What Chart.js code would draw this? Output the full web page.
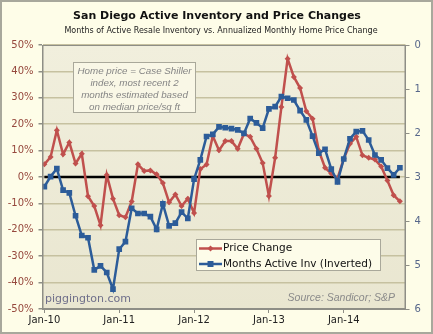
<!DOCTYPE html>
<html>
<head>
<meta charset="utf-8">
<script src="https://cdn.jsdelivr.net/npm/chart.js@4.4.1/dist/chart.umd.min.js"></script>
<style>
  html, body { margin: 0; padding: 0; background: #fff; }
</style>
</head>
<body>
<canvas id="chart" width="433" height="334"></canvas>
<script>
// month categories, Jan-10 .. Oct-14
const months = [
  'Jan-10','Feb-10','Mar-10','Apr-10','May-10','Jun-10','Jul-10','Aug-10','Sep-10','Oct-10','Nov-10','Dec-10',
  'Jan-11','Feb-11','Mar-11','Apr-11','May-11','Jun-11','Jul-11','Aug-11','Sep-11','Oct-11','Nov-11','Dec-11',
  'Jan-12','Feb-12','Mar-12','Apr-12','May-12','Jun-12','Jul-12','Aug-12','Sep-12','Oct-12','Nov-12','Dec-12',
  'Jan-13','Feb-13','Mar-13','Apr-13','May-13','Jun-13','Jul-13','Aug-13','Sep-13','Oct-13','Nov-13','Dec-13',
  'Jan-14','Feb-14','Mar-14','Apr-14','May-14','Jun-14','Jul-14','Aug-14','Sep-14','Oct-14'
];

// annualized monthly price change, %
const priceChange = [
  4.8, 7.6, 17.7, 8.6, 13.1, 5.1, 8.8, -7.3, -11.0, -18.3, 0.8, -8.2,
  -14.5, -15.2, -9.3, 4.8, 2.3, 2.5, 1.0, -2.3, -9.6, -6.6, -11.0, -8.2,
  -13.6, 3.0, 4.7, 15.5, 10.1, 13.6, 13.6, 10.7, 16.4, 15.2, 10.7, 5.3,
  -7.2, 7.3, 26.5, 44.8, 37.9, 33.7, 24.9, 22.1, 10.0, 3.5, 1.3, -0.5,
  6.9, 12.6, 15.2, 8.2, 7.3, 6.6, 4.0, -1.3, -6.9, -9.2
];

// months of active inventory (plotted inverted on right axis)
const monthsInv = [
  3.22, 2.99, 2.81, 3.30, 3.36, 3.88, 4.33, 4.38, 5.11, 5.02, 5.17, 5.55,
  4.64, 4.47, 3.71, 3.83, 3.83, 3.90, 4.19, 3.61, 4.11, 4.05, 3.80, 3.94,
  3.05, 2.61, 2.08, 2.03, 1.86, 1.88, 1.90, 1.93, 2.01, 1.67, 1.77, 1.89,
  1.45, 1.40, 1.17, 1.21, 1.25, 1.49, 1.70, 2.07, 2.46, 2.37, 2.82, 3.11,
  2.59, 2.13, 1.97, 1.95, 2.16, 2.50, 2.61, 2.80, 2.95, 2.79
];

const noteLines = ['Home price = Case Shiller', 'index, most recent 2', 'months estimated based', 'on median price/sq ft'];

const RED = '#c0504d';
const BLUE = '#2c5c99';

// x positions of the January ticks
const janIdx = months.map((m, i) => m.startsWith('Jan') ? i : -1).filter(i => i >= 0);

const toXY = arr => arr.map((v, i) => ({ x: i, y: v }));

// backgrounds: outer panel + plot gradient
const bgPlugin = {
  id: 'bg',
  beforeDraw(chart) {
    const { ctx, chartArea: a } = chart;
    ctx.save();
    ctx.fillStyle = '#fefde8';
    ctx.fillRect(0, 0, chart.width, chart.height);
    ctx.strokeStyle = '#a8a89c';
    ctx.lineWidth = 2;
    ctx.strokeRect(1, 1, chart.width - 2, chart.height - 2);
    const g = ctx.createLinearGradient(0, a.top, 0, a.bottom);
    g.addColorStop(0, '#f1efdd');
    g.addColorStop(1, '#e9e6d0');
    ctx.fillStyle = g;
    ctx.fillRect(a.left, a.top, a.right - a.left, a.bottom - a.top);
    ctx.restore();
  }
};

// titles, note box, legend, credits
const extrasPlugin = {
  id: 'extras',
  afterDraw(chart) {
    const { ctx, chartArea: a } = chart;
    ctx.save();
    // plot border
    ctx.strokeStyle = '#8e8e86';
    ctx.lineWidth = 1;
    ctx.strokeRect(a.left + 0.5, a.top + 0.5, a.right - a.left - 1, a.bottom - a.top - 1);

    ctx.textAlign = 'center';
    ctx.textBaseline = 'middle';
    ctx.fillStyle = '#111';
    ctx.font = 'bold 11px "DejaVu Sans"';
    ctx.fillText('San Diego Active Inventory and Price Changes', 217, 16);
    ctx.fillStyle = '#222';
    ctx.font = '8px "DejaVu Sans"';
    ctx.fillText('Months of Active Resale Inventory vs. Annualized Monthly Home Price Change', 221, 31);

    // note box
    ctx.fillStyle = '#f9f7e6';
    ctx.fillRect(73, 62, 123, 51);
    ctx.strokeStyle = '#a9a89a';
    ctx.strokeRect(73.5, 62.5, 122, 50);
    ctx.fillStyle = '#858585';
    ctx.font = 'italic 9.8px "Liberation Sans"';
    noteLines.forEach((t, i) => ctx.fillText(t, 134.5, 71 + i * 12));

    // legend
    ctx.fillStyle = '#fdfce9';
    ctx.fillRect(196, 239, 185, 32);
    ctx.strokeStyle = '#a9a89a';
    ctx.strokeRect(196.5, 239.5, 184, 31);
    const rows = [
      { label: 'Price Change', color: RED, y: 248.5, shape: 'diamond' },
      { label: 'Months Active Inv (Inverted)', color: BLUE, y: 264, shape: 'square' }
    ];
    rows.forEach(r => {
      ctx.strokeStyle = r.color;
      ctx.lineWidth = 2.5;
      ctx.beginPath();
      ctx.moveTo(199, r.y);
      ctx.lineTo(222, r.y);
      ctx.stroke();
      ctx.fillStyle = r.color;
      ctx.beginPath();
      if (r.shape === 'diamond') {
        ctx.moveTo(210.5, r.y - 3); ctx.lineTo(213.5, r.y); ctx.lineTo(210.5, r.y + 3); ctx.lineTo(207.5, r.y);
      } else {
        ctx.rect(207.5, r.y - 3, 6, 6);
      }
      ctx.fill();
      ctx.fillStyle = '#111';
      ctx.textAlign = 'left';
      ctx.font = '10.5px "DejaVu Sans"';
      ctx.fillText(r.label, 223, r.y);
    });

    // credits
    ctx.fillStyle = '#6f6f8a';
    ctx.font = '11px "DejaVu Sans"';
    ctx.textAlign = 'left';
    ctx.fillText('piggington.com', 45, 299.5);
    ctx.fillStyle = '#8a8a8a';
    ctx.font = 'italic 10.5px "Liberation Sans"';
    ctx.textAlign = 'right';
    ctx.fillText('Source: Sandicor; S&P', 395, 298.5);
    ctx.restore();
  }
};

new Chart(document.getElementById('chart'), {
  type: 'line',
  data: {
    datasets: [
      {
        label: 'Months Active Inv (Inverted)',
        data: toXY(monthsInv),
        yAxisID: 'y2',
        borderColor: BLUE,
        backgroundColor: BLUE,
        borderWidth: 2.5,
        pointStyle: 'rect',
        pointRadius: 4,
        pointBorderWidth: 0,
        tension: 0,
        order: 1
      },
      {
        label: 'Price Change',
        data: toXY(priceChange),
        yAxisID: 'y',
        borderColor: RED,
        backgroundColor: RED,
        borderWidth: 2.5,
        pointStyle: 'rectRot',
        pointRadius: 3,
        pointBorderWidth: 0,
        tension: 0,
        order: 2
      },
      {
        label: 'zero',
        data: [{ x: 0, y: 0 }, { x: months.length - 1, y: 0 }],
        yAxisID: 'y',
        borderColor: '#000',
        borderWidth: 2.5,
        pointRadius: 0,
        order: 3
      }
    ]
  },
  options: {
    responsive: false,
    animation: false,
    devicePixelRatio: 1,
    layout: { padding: { left: 0, right: 0, top: 45, bottom: 0 } },
    plugins: {
      legend: { display: false },
      title: { display: false },
      tooltip: { enabled: false }
    },
    scales: {
      x: {
        type: 'linear',
        min: -0.3,
        max: 57.9,
        afterBuildTicks: s => { s.ticks = janIdx.map(v => ({ value: v })); },
        afterFit: s => { s.height = 25; },
        ticks: {
          autoSkip: false,
          maxRotation: 0,
          padding: 1,
          color: '#222',
          font: { family: 'DejaVu Sans', size: 10 },
          callback: v => months[v]
        },
        grid: { drawOnChartArea: false, tickLength: 4, tickColor: '#8e8e86' },
        border: { color: '#8e8e86' }
      },
      y: {
        position: 'left',
        min: -50,
        max: 50,
        afterFit: s => { s.width = 42.5; },
        ticks: {
          stepSize: 10,
          padding: 5,
          color: '#96483d',
          font: { family: 'DejaVu Sans', size: 10 },
          callback: v => v + '%'
        },
        grid: { color: '#c6c1a0', lineWidth: 1.5, tickLength: 4, tickColor: '#8e8e86' },
        border: { color: '#8e8e86' }
      },
      y2: {
        position: 'right',
        reverse: true,
        min: 0,
        max: 6,
        afterFit: s => { s.width = 27.5; },
        ticks: {
          stepSize: 1,
          padding: 5,
          color: '#56668a',
          font: { family: 'DejaVu Sans', size: 10 }
        },
        grid: { drawOnChartArea: false, tickLength: 4, tickColor: '#8e8e86' },
        border: { color: '#8e8e86' }
      }
    }
  },
  plugins: [bgPlugin, extrasPlugin]
});
</script>
</body>
</html>
